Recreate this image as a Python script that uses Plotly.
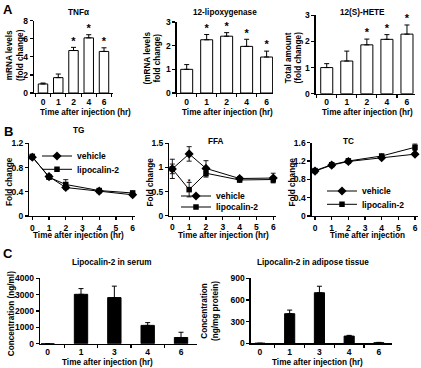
import plotly.graph_objects as go

W, H = 421, 368

# ---------------- Data ----------------
# Panel A (bar charts, fold change)
a_cats = ["0", "1", "2", "4", "6"]
tnf_mean = [1.0, 1.7, 4.7, 6.1, 4.6]
tnf_err = [0.1, 0.4, 0.35, 0.35, 0.4]
tnf_sig = [False, False, True, True, True]
lox_mean = [1.0, 2.25, 2.4, 1.97, 1.52]
lox_err = [0.2, 0.22, 0.15, 0.3, 0.25]
lox_sig = [False, True, True, True, True]
hete_mean = [1.0, 1.25, 1.87, 2.08, 2.28]
hete_err = [0.15, 0.38, 0.22, 0.18, 0.35]
hete_sig = [False, False, True, True, True]

# Panel B (time courses)
b_time = [0, 1, 2, 4, 6]
tg_veh = [0.97, 0.65, 0.47, 0.41, 0.35]
tg_veh_err = [0.03, 0.03, 0.03, 0.02, 0.03]
tg_lcn = [0.98, 0.64, 0.52, 0.42, 0.38]
tg_lcn_err = [0.04, 0.03, 0.08, 0.03, 0.03]
ffa_veh = [0.97, 1.28, 0.98, 0.77, 0.78]
ffa_veh_err = [0.2, 0.15, 0.16, 0.04, 0.1]
ffa_lcn = [0.97, 0.54, 0.88, 0.74, 0.75]
ffa_lcn_err = [0.1, 0.15, 0.08, 0.04, 0.06]
ffa_lcn_sig = [False, True, False, False, False]
tc_veh = [0.98, 1.11, 1.19, 1.27, 1.35]
tc_veh_err = [0.03, 0.03, 0.03, 0.03, 0.03]
tc_lcn = [0.99, 1.12, 1.20, 1.31, 1.50]
tc_lcn_err = [0.03, 0.04, 0.05, 0.03, 0.07]

# Panel C (lipocalin-2 concentrations)
c_cats = ["0", "1", "3", "4", "6"]
serum_mean = [0, 3020, 2820, 1120, 380]
serum_err = [0, 350, 700, 170, 320]
adip_mean = [0, 410, 700, 100, 8]
adip_err = [0, 50, 90, 10, 5]

# ---------------- Styling helpers ----------------
FONT = "Liberation Sans, Arial, sans-serif"
TICKFONT = dict(family=FONT, size=8.5, color="black", weight="bold")


def px_x(p):
    return p / W


def px_y(p):
    return 1 - p / H


def xdom(a, b):
    return [px_x(a), px_x(b)]


def ydom(top, bottom):
    return [px_y(bottom), px_y(top)]


fig = go.Figure()
layout = {}


def axis_common():
    return dict(showline=True, linecolor="black", linewidth=1.3, ticks="outside",
                ticklen=3, tickwidth=1.2, tickcolor="black", showgrid=False,
                zeroline=False, tickfont=TICKFONT, fixedrange=True, automargin=False)


def add_bar_panel(idx, cats, mean, err, sig, xd, yd, xr, yr, dtick, width, fill):
    xa = f"x{idx}" if idx > 1 else "x"
    ya = f"y{idx}" if idx > 1 else "y"
    fig.add_trace(go.Bar(
        x=cats, y=mean, xaxis=xa, yaxis=ya, width=width,
        marker=dict(color=fill, line=dict(color="black", width=1)),
        error_y=dict(type="data", array=err, arrayminus=[0] * len(err), symmetric=False,
                     color="black", thickness=1, width=2.5),
        showlegend=False, hoverinfo="skip"))
    if sig is not None:
        sx = [c for c, s in zip(cats, sig) if s]
        sy = [m + e for m, e, s in zip(mean, err, sig) if s]
        fig.add_trace(go.Scatter(
            x=sx, y=sy, xaxis=xa, yaxis=ya, mode="text", text=["*"] * len(sx),
            textposition="top center",
            textfont=dict(family=FONT, size=11, color="black", weight="bold"),
            showlegend=False, hoverinfo="skip", cliponaxis=False))
    xk = "xaxis" if idx == 1 else f"xaxis{idx}"
    yk = "yaxis" if idx == 1 else f"yaxis{idx}"
    xax = axis_common()
    xax.update(domain=xdom(*xd), anchor=ya, type="category", categoryorder="array",
               categoryarray=cats, range=xr, tickson="boundaries")
    yax = axis_common()
    yax.update(domain=ydom(*yd), anchor=xa, range=yr, dtick=dtick, tick0=0)
    layout[xk] = xax
    layout[yk] = yax


def add_line_panel(idx, t, veh, veh_err, lcn, lcn_err, xd, yd, xr, yr, dtick, ticktext,
                   legs, sig=None):
    xa = f"x{idx}"
    ya = f"y{idx}"
    fig.add_trace(go.Scatter(
        x=t, y=veh, xaxis=xa, yaxis=ya, mode="lines+markers", name="vehicle",
        line=dict(color="black", width=1),
        marker=dict(symbol="diamond", size=7, color="black"),
        error_y=dict(type="data", array=veh_err, color="black", thickness=0.9, width=2.5),
        legend=legs[0], hoverinfo="skip", cliponaxis=False))
    fig.add_trace(go.Scatter(
        x=t, y=lcn, xaxis=xa, yaxis=ya, mode="lines+markers", name="lipocalin-2",
        line=dict(color="black", width=1),
        marker=dict(symbol="square", size=5.5, color="black"),
        error_y=dict(type="data", array=lcn_err, color="black", thickness=0.9, width=2.5),
        legend=legs[1], hoverinfo="skip", cliponaxis=False))
    if sig is not None:
        sx = [x for x, s in zip(t, sig) if s]
        sy = [m + e for m, e, s in zip(lcn, lcn_err, sig) if s]
        fig.add_trace(go.Scatter(
            x=sx, y=sy, xaxis=xa, yaxis=ya, mode="text", text=["*"] * len(sx),
            textposition="middle center",
            textfont=dict(family=FONT, size=7, color="black", weight="bold"),
            showlegend=False, hoverinfo="skip", cliponaxis=False))
    xax = axis_common()
    xax.update(domain=xdom(*xd), anchor=ya, range=xr, dtick=1, tick0=0)
    yax = axis_common()
    yax.update(domain=ydom(*yd), anchor=xa, range=yr, tickvals=[i * dtick for i in range(len(ticktext))],
               ticktext=ticktext)
    layout[f"xaxis{idx}"] = xax
    layout[f"yaxis{idx}"] = yax


# Panel A
add_bar_panel(1, a_cats, tnf_mean, tnf_err, tnf_sig, (34, 113), (20.7, 93), [-0.59, 4.59], [0, 8], 2, 0.62, "white")
add_bar_panel(2, a_cats, lox_mean, lox_err, lox_sig, (176.7, 273), (22, 93), [-0.5, 4.32], [0, 3], 1, 0.6, "white")
add_bar_panel(3, a_cats, hete_mean, hete_err, hete_sig, (315.7, 415), (15.3, 93.7), [-0.55, 4.4], [0, 3], 1, 0.6, "white")

# Panel B
add_line_panel(4, b_time, tg_veh, tg_veh_err, tg_lcn, tg_lcn_err, (29.3, 135), (143.3, 216),
               [-0.18, 6.14], [0, 1.2], 0.4, ["0", "0.4", "0.8", "1.2"], ("legend", "legend2"))
add_line_panel(5, b_time, ffa_veh, ffa_veh_err, ffa_lcn, ffa_lcn_err, (169.3, 275.8), (143.3, 215.7),
               [-0.18, 6.15], [0, 1.5], 0.5, ["0", "0.5", "1", "1.5"], ("legend3", "legend4"), sig=ffa_lcn_sig)
add_line_panel(6, b_time, tc_veh, tc_veh_err, tc_lcn, tc_lcn_err, (311.7, 417.5), (142.7, 216),
               [-0.2, 6.15], [0, 1.6], 0.4, ["0", "0.4", "0.8", "1.2", "1.6"], ("legend5", "legend6"))

# Panel C
add_bar_panel(7, c_cats, serum_mean, serum_err, None, (40, 196.7), (278.3, 343.7), [-0.23, 4.47], [0, 4000], 1000, 0.4, "black")
add_bar_panel(8, c_cats, adip_mean, adip_err, None, (250.7, 391.7), (278.3, 343.3), [-0.31, 4.43], [0, 900], 300, 0.34, "black")

# ---------------- Text annotations ----------------
LBL = dict(family=FONT, size=8.2, color="black", weight="bold")
annotations = []


def ann(text, x, y, size=None, angle=0, xanchor="center", yanchor="middle"):
    f = dict(LBL)
    if size:
        f["size"] = size
    annotations.append(dict(text=text, x=px_x(x), y=px_y(y), xref="paper", yref="paper",
                            showarrow=False, textangle=angle, xanchor=xanchor, yanchor=yanchor,
                            borderpad=0, font=f))


# panel letters
ann("A", 8, 1, size=13, yanchor="top")
ann("B", 8, 131, size=13)
ann("C", 8, 253, size=13)

# titles
ann("TNFα", 78, 13)
ann("12-lipoxygenase", 225, 13)
ann("12(S)-HETE", 362, 13)
ann("TG", 78, 130)
ann("FFA", 216, 141.5)
ann("TC", 348, 141)
ann("Lipocalin-2 in serum", 112, 262)
ann("Lipocalin-2 in adipose tissue", 313, 262)

# x-axis titles
xt = "Time after injection (hr)"
ann(xt, 85, 112)
ann(xt, 227, 112)
ann(xt, 367, 112)
ann(xt, 78, 235)
ann(xt, 223, 235)
ann("Time after injection", 367, 235)
ann(xt, 107, 367.5, yanchor="bottom")
ann(xt, 317, 367.5, yanchor="bottom")

# y-axis titles
ann("mRNA levels<br>(fold change)", 15, 55, angle=-90)
ann("(mRNA levels<br>fold change)", 152.5, 58, angle=-90)
ann("Total amount<br>(fold change)", 293.5, 58, angle=-90)
ann("Fold change", 9, 182, angle=-90)
ann("Fold change", 149.5, 182, angle=-90)
ann("Fold change", 291.5, 182, angle=-90)
ann("Concentration (ng/ml)", 11.2, 314, angle=-90)
ann("Concentration<br>(ng/mg protein)", 210, 311, angle=-90)

LEGFONT = dict(family=FONT, size=8.5, color="black", weight="bold")
leg_common = dict(font=LEGFONT, bgcolor="rgba(0,0,0,0)", borderwidth=0,
                  xanchor="left", yanchor="middle", tracegroupgap=0, itemwidth=30)

layout.update(
    width=W, height=H, margin=dict(l=0, r=0, t=0, b=0, autoexpand=False),
    paper_bgcolor="white", plot_bgcolor="white",
    font=dict(family=FONT, color="black"),
    annotations=annotations,
    showlegend=True,
    legend=dict(x=px_x(37), y=px_y(156), **leg_common),
    legend2=dict(x=px_x(37), y=px_y(169.3), **leg_common),
    legend3=dict(x=px_x(176), y=px_y(196), **leg_common),
    legend4=dict(x=px_x(176), y=px_y(207), **leg_common),
    legend5=dict(x=px_x(322), y=px_y(191), **leg_common),
    legend6=dict(x=px_x(322), y=px_y(204.3), **leg_common),
    bargap=0,
)

fig.update_layout(**layout)
fig.write_html("out.html",
               config={"displayModeBar": False, "staticPlot": True},
               post_script="document.body.style.margin='0';document.body.style.overflow='hidden';")
